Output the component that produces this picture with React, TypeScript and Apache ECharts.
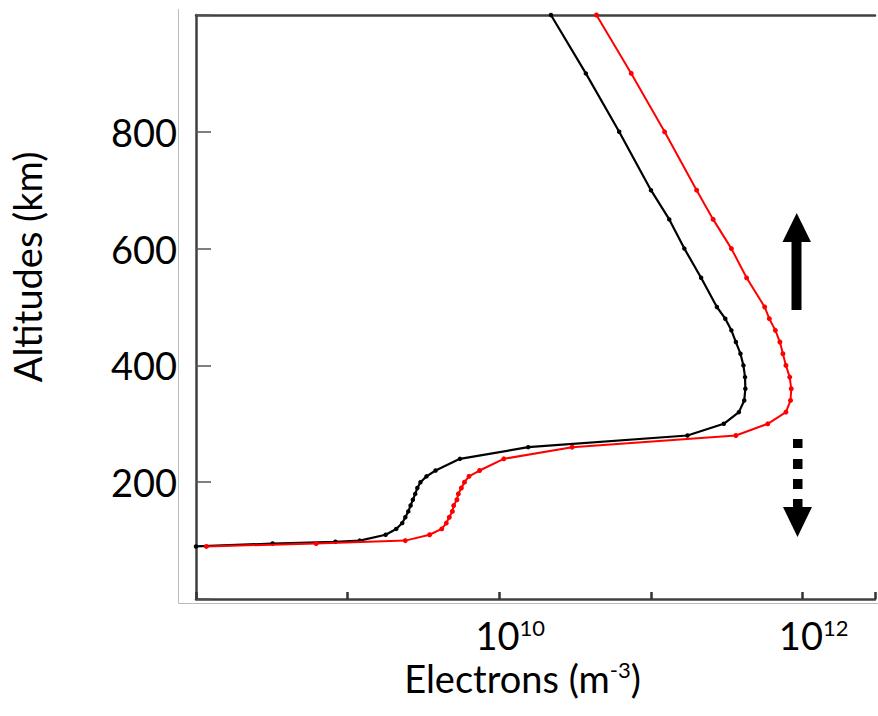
import React, { useEffect, useRef } from "react";
import * as echarts from "echarts";

// Altitudes (km) and electron densities (m^-3)
const blackAlt = [90, 95, 98, 100, 110, 120, 130, 140, 150, 160, 170, 180, 190, 200, 210, 220, 240, 260, 280, 300, 320, 340, 360, 380, 400, 420, 440, 460, 480, 500, 550, 600, 650, 700, 800, 900, 1000];
const blackDensity = [1.0e8, 3.2e8, 8.3e8, 1.2e9, 1.78e9, 2.09e9, 2.29e9, 2.4e9, 2.51e9, 2.6e9, 2.69e9, 2.79e9, 2.88e9, 3.02e9, 3.31e9, 3.8e9, 5.5e9, 1.55e10, 1.74e11, 3.02e11, 3.8e11, 4.12e11, 4.19e11, 4.17e11, 4.07e11, 3.89e11, 3.63e11, 3.39e11, 3.09e11, 2.72e11, 2.14e11, 1.66e11, 1.32e11, 1.0e11, 6.17e10, 3.72e10, 2.19e10];

const redAlt = [90, 95, 100, 110, 120, 130, 140, 150, 160, 170, 180, 190, 200, 210, 220, 240, 260, 280, 300, 320, 340, 360, 380, 400, 420, 440, 460, 480, 500, 550, 600, 650, 700, 800, 900, 1000];
const redDensity = [1.17e8, 6.2e8, 2.4e9, 3.47e9, 4.17e9, 4.47e9, 4.68e9, 4.9e9, 5.0e9, 5.25e9, 5.37e9, 5.62e9, 5.89e9, 6.31e9, 7.41e9, 1.07e10, 3.02e10, 3.63e11, 5.89e11, 7.76e11, 8.32e11, 8.41e11, 8.22e11, 7.76e11, 7.41e11, 7.08e11, 6.61e11, 6.03e11, 5.62e11, 4.27e11, 3.39e11, 2.57e11, 2.0e11, 1.23e11, 7.41e10, 4.37e10];

const xMin = 1e8;
const xMax = 3e12;
const labelledExponents = [10, 12];
const yTicks = [200, 400, 600, 800];

const FONT = "Lato, 'Open Sans', sans-serif";
const FS = 38;
const SUP = 22;

export default function App() {
  const ref = useRef<HTMLDivElement>(null);

  useEffect(() => {
    if (!ref.current) return;
    const chart = echarts.init(ref.current, undefined, { renderer: "svg" });
    const pair = (xs: number[], ys: number[]) => xs.map((x, i) => [x, ys[i]]);
    const rich = {
      b: { fontSize: FS, fontFamily: FONT, color: "#000" },
      s: { fontSize: SUP, fontFamily: FONT, color: "#000", verticalAlign: "top" },
    };

    const option: any = {
      animation: false,
      backgroundColor: "#ffffff",
      grid: { left: 191, top: 15, width: 687, height: 584, containLabel: false },
      xAxis: [
        {
          type: "log",
          logBase: 10,
          min: xMin,
          max: xMax,
          position: "bottom",
          axisLine: { show: true, lineStyle: { color: "#404040", width: 2.5 } },
          axisTick: { show: true, inside: true, length: 7, lineStyle: { color: "#333", width: 2.5 } },
          splitLine: { show: false },
          minorTick: { show: false },
          axisLabel: {
            show: true,
            margin: 17,
            padding: [0, 0, 0, 22],
            formatter: (v: number) => {
              const l = Math.log10(v);
              const e = Math.round(l);
              if (Math.abs(l - e) > 1e-6) return "";
              return labelledExponents.includes(e) ? "{b|10}{s|" + e + "}" : "";
            },
            rich,
          },
          name: "{b|Electrons (m}{s|-3}{b|)}",
          nameLocation: "middle",
          nameGap: 52,
          nameTextStyle: { padding: [0, 26, 0, 0], rich },
        },
        {
          type: "log",
          logBase: 10,
          min: xMin,
          max: xMax,
          position: "top",
          axisLine: { show: true, lineStyle: { color: "#404040", width: 2.5 } },
          axisTick: { show: false },
          axisLabel: { show: false },
          splitLine: { show: false },
        },
      ],
      yAxis: {
        type: "value",
        min: 0,
        max: 1000,
        interval: 200,
        axisLine: { show: true, lineStyle: { color: "#404040", width: 2.5 } },
        axisTick: { show: true, inside: true, length: 15, lineStyle: { color: "#555", width: 1.5 } },
        splitLine: { show: false },
        axisLabel: {
          margin: 19,
          fontSize: FS,
          fontFamily: FONT,
          color: "#000",
          formatter: (v: number) => (yTicks.includes(v) ? String(v) : ""),
        },
        name: "Altitudes (km)",
        nameLocation: "middle",
        nameGap: 150,
        nameTextStyle: { fontSize: FS, fontFamily: FONT, color: "#000", padding: [0, 0, 0, 80] },
      },
      series: [
        {
          type: "line",
          name: "black",
          data: pair(blackDensity, blackAlt),
          symbol: "circle",
          symbolSize: 4.5,
          lineStyle: { color: "#000", width: 2.2 },
          itemStyle: { color: "#000" },
          z: 2,
        },
        {
          type: "line",
          name: "red",
          data: pair(redDensity, redAlt),
          symbol: "circle",
          symbolSize: 5,
          lineStyle: { color: "#ff0000", width: 2 },
          itemStyle: { color: "#ff0000" },
          z: 3,
        },
      ],
      graphic: [
        {
          type: "polyline",
          shape: { points: [[178.5, 9], [178.5, 603.5], [878, 603.5]] },
          style: { stroke: "#bbbbbb", lineWidth: 1, fill: "none" },
          z: 1,
        },
        // solid up arrow
        { type: "rect", shape: { x: 791.5, y: 240, width: 10, height: 70 }, style: { fill: "#000" } },
        { type: "polygon", shape: { points: [[782.5, 242], [811, 242], [796.7, 213]] }, style: { fill: "#000" } },
        // dotted down arrow
        { type: "rect", shape: { x: 793, y: 439, width: 9.5, height: 9 }, style: { fill: "#000" } },
        { type: "rect", shape: { x: 793, y: 459, width: 9.5, height: 10 }, style: { fill: "#000" } },
        { type: "rect", shape: { x: 793, y: 479, width: 9.5, height: 10 }, style: { fill: "#000" } },
        { type: "rect", shape: { x: 793, y: 499, width: 9.5, height: 9 }, style: { fill: "#000" } },
        { type: "polygon", shape: { points: [[783, 507], [812, 507], [797.5, 537]] }, style: { fill: "#000" } },
      ],
    };
    chart.setOption(option);
    return () => chart.dispose();
  }, []);

  return (
    <div
      ref={ref}
      style={{ position: "fixed", left: 0, top: 0, width: 878, height: 716, background: "#fff" }}
    />
  );
}
